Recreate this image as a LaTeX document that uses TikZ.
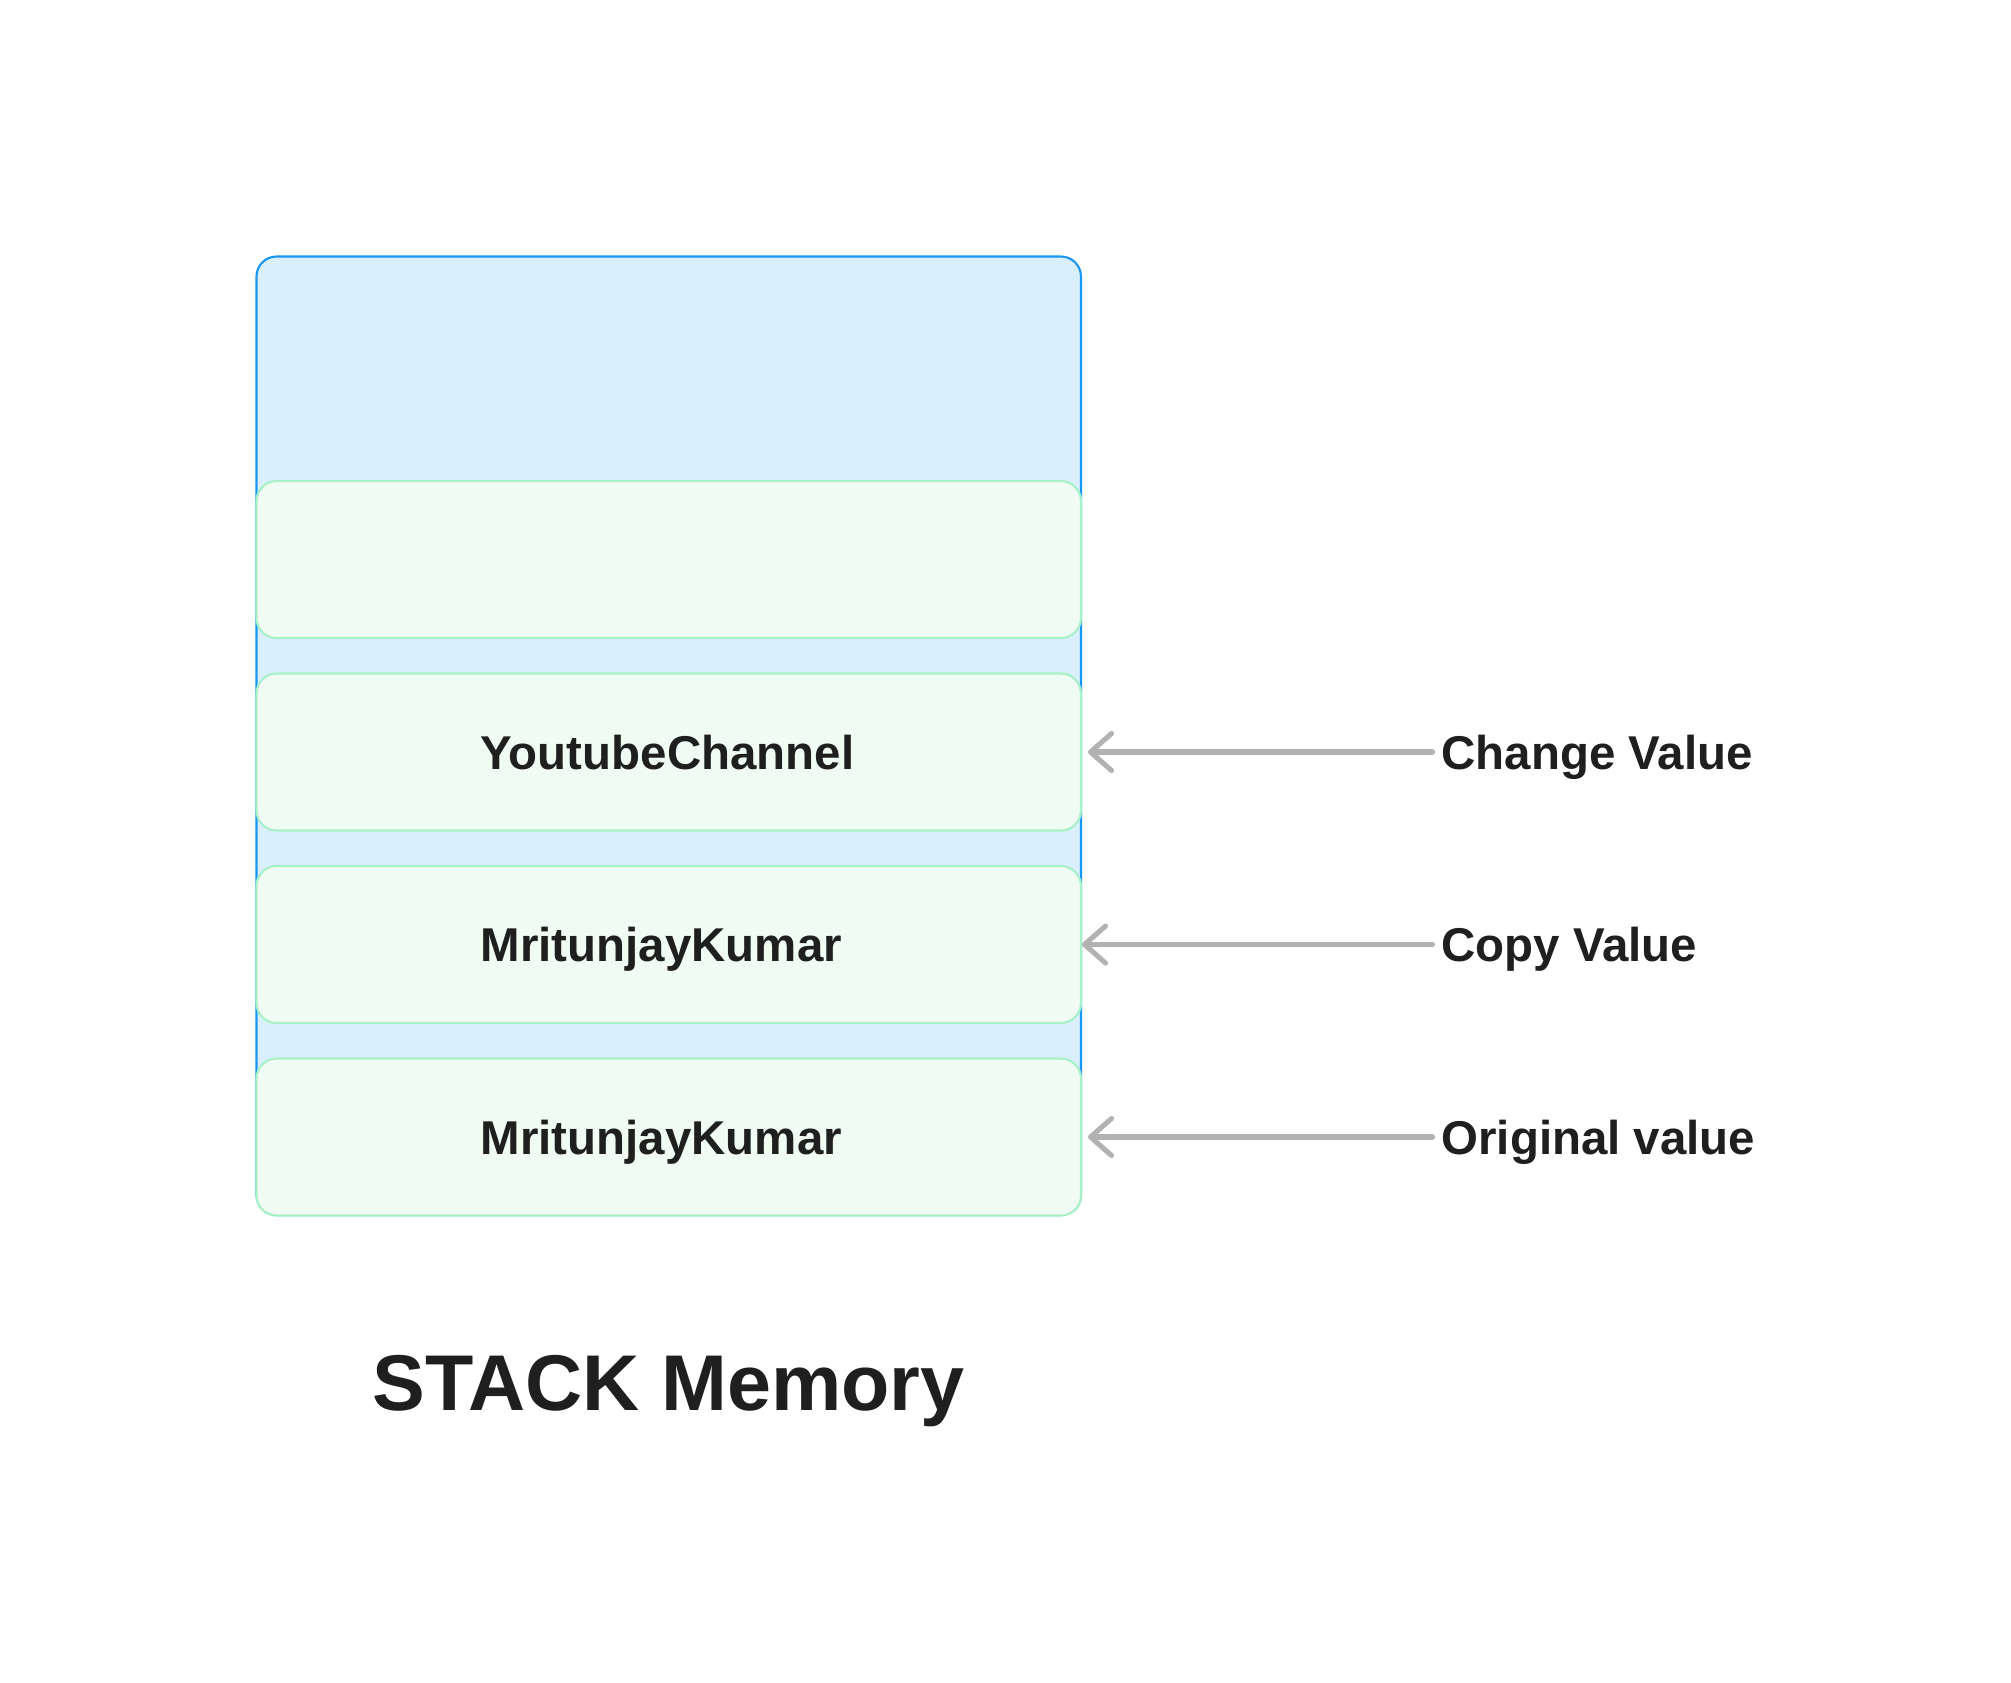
\documentclass[tikz,border=0pt]{standalone}
\usepackage{fontspec}
\setmainfont{Liberation Sans}
\usetikzlibrary{
arrows.meta,
positioning,
}

\definecolor{stackfill}{RGB}{218,239,252}
\definecolor{stackline}{RGB}{24,150,245}
\definecolor{slotfill}{RGB}{240,251,243}
\definecolor{slotline}{RGB}{168,240,200}
\definecolor{pointergray}{RGB}{178,178,178}
\definecolor{ink}{RGB}{31,31,31}

\begin{document}
\begin{tikzpicture}[
	stackbox/.style={draw=stackline, fill=stackfill, line width=0.6pt, rounded corners=0.2cm, minimum width=8.245cm, minimum height=9.585cm, outer sep=0pt},
	slot/.style={draw=slotline, fill=slotfill, line width=0.6pt, rounded corners=0.2cm, minimum width=8.245cm, minimum height=1.57cm, outer sep=0pt, inner xsep=0pt, text width=3.76cm, align=left, text height=9.7pt, text depth=0pt, text=ink, font=\fontsize{13.5}{16}\selectfont\bfseries},
	tag/.style={inner sep=0pt, outer sep=0pt, text height=9.7pt, text depth=0pt, text=ink, font=\fontsize{13.5}{16}\selectfont\bfseries},
	pointer/.style={draw=pointergray, line width=1.45pt, line cap=round, -{Straight Barb[length=0.21cm, width=0.37cm, line cap=round, line join=round]}, shorten <=0.09cm},
]
			% Fix the page size
			\useasboundingbox (0,0) rectangle (20.11,-16.82);

			% Stack frame and its slots
			\node[stackbox] (stack) at (6.6875,-7.3575) {};
			\node[slot, below=2.245cm of stack.north] (s1) {};
			\node[slot, below=0.355cm of s1] (s2) {YoutubeChannel};
			\node[slot, below=0.355cm of s2] (s3) {MritunjayKumar};
			\node[slot, below=0.355cm of s3] (s4) {MritunjayKumar};

			% Labels on the right
			\node[tag, right=3.605cm of s2, anchor=west] (change) {Change Value};
			\node[tag, right=3.605cm of s3, anchor=west] (copy) {Copy Value};
			\node[tag, right=3.605cm of s4, anchor=west] (orig) {Original value};

			\draw[pointer, shorten >=0.07cm] (change.west) -- (s2.east);
			\draw[pointer, shorten >=0.01cm] (copy.west) -- (s3.east);
			\draw[pointer, shorten >=0.07cm] (orig.west) -- (s4.east);

			\node[inner sep=0pt, text height=16.2pt, text depth=0pt, text=ink, font=\fontsize{22.5}{27}\selectfont\bfseries, below=1.37cm of s4] (title) {STACK Memory};

		\end{tikzpicture}
\end{document}
